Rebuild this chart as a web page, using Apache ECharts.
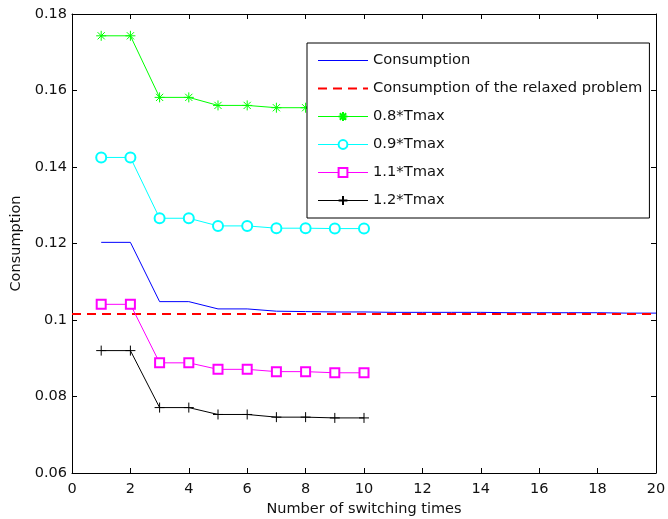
<!DOCTYPE html>
<html>
<head>
<meta charset="utf-8">
<script src="https://cdn.jsdelivr.net/npm/echarts@6/dist/echarts.min.js"></script>
<style>html,body{margin:0;padding:0;background:#fff}#c{width:668px;height:519px}</style>
</head>
<body>
<div id="c"></div>
<script>
var xShort = [1, 2, 3, 4, 5, 6, 7, 8, 9, 10];
var xLong = [1, 2, 3, 4, 5, 6, 7, 8, 9, 10, 11, 12, 13, 14, 15, 16, 17, 18, 19, 20];
var consumption = [0.1203, 0.1203, 0.1048, 0.1048, 0.1029, 0.1029, 0.1023, 0.1022, 0.1021, 0.1021,
                   0.1020, 0.1020, 0.1020, 0.1020, 0.1019, 0.1019, 0.1019, 0.1019, 0.1018, 0.1018];
var relaxedX = [0, 20];
var relaxed = [0.1016, 0.1016];
var t08 = [0.1743, 0.1743, 0.1582, 0.1582, 0.1561, 0.1561, 0.1555, 0.1555, 0.1553, 0.1553];
var t09 = [0.1425, 0.1425, 0.1266, 0.1266, 0.1246, 0.1246, 0.1240, 0.1240, 0.1239, 0.1239];
var t11 = [0.1041, 0.1041, 0.0888, 0.0888, 0.0871, 0.0871, 0.0865, 0.0865, 0.0862, 0.0862];
var t12 = [0.0920, 0.0920, 0.0771, 0.0771, 0.0753, 0.0753, 0.0746, 0.0746, 0.0744, 0.0744];
var names = ['Consumption', 'Consumption of the relaxed problem', '0.8*Tmax', '0.9*Tmax', '1.1*Tmax', '1.2*Tmax'];

function pairs(xs, ys) { return xs.map(function (x, i) { return [x, ys[i]]; }); }

var FONT = 'DejaVu Sans, sans-serif';
var FS = 14.5;
var star = 'path://M0,-5L0,5M-5,0L5,0M-3.6,-3.6L3.6,3.6M-3.6,3.6L3.6,-3.6';
var plus = 'path://M0,-5L0,5M-5,0L5,0';

function mkSeries(name, data, color, symbol, size, dash, width) {
  var noMark = symbol === 'none';
  return {
    name: name, type: 'line', data: data, xAxisIndex: 0, yAxisIndex: 0,
    symbol: noMark ? 'circle' : symbol, symbolSize: noMark ? 0 : size, showSymbol: !noMark,
    lineStyle: { color: color, width: width || 1, type: dash || 'solid' },
    itemStyle: noMark ? { color: 'rgba(0,0,0,0)', borderColor: 'rgba(0,0,0,0)', borderWidth: 0, opacity: 0 }
                      : { color: color, borderColor: color, borderWidth: 1 },
    emphasis: { disabled: true }, animation: false, silent: true
  };
}

var legendWidths = [1, 2, 1, 1, 1, 1];
var legendData = names.map(function (n, i) { return { name: n, lineStyle: { width: legendWidths[i] } }; });

var chart = echarts.init(document.getElementById('c'), null, { renderer: 'canvas' });
var axisLine = { show: true, onZero: false, lineStyle: { color: '#000', width: 1 } };
var tick = { show: true, inside: true, length: 5, lineStyle: { color: '#000' } };
chart.setOption({
  backgroundColor: '#fff',
  animation: false,
  grid: { left: 72, right: 12, top: 14, bottom: 46, containLabel: false, outerBoundsMode: 'none' },
  legend: {
    orient: 'vertical', left: 307, top: 43,
    padding: [10, 7, 10, 10], itemWidth: 50, itemHeight: 11, itemGap: 13,
    borderColor: '#000', borderWidth: 1, backgroundColor: '#fff',
    textStyle: { fontFamily: FONT, fontSize: 14.7, color: '#111' },
    data: legendData, selectedMode: false
  },
  xAxis: [
    { type: 'value', min: 0, max: 20, interval: 2, position: 'bottom',
      name: 'Number of switching times', nameLocation: 'middle', nameGap: 28,
      nameTextStyle: { fontFamily: FONT, fontSize: FS, color: '#111' },
      axisLine: axisLine, axisTick: tick,
      axisLabel: { fontFamily: FONT, fontSize: FS, color: '#111', margin: 9 },
      splitLine: { show: false } },
    { type: 'value', min: 0, max: 20, interval: 2, position: 'top',
      axisLine: axisLine, axisTick: tick,
      axisLabel: { show: false }, splitLine: { show: false } }
  ],
  yAxis: [
    { type: 'value', min: 0.06, max: 0.18, interval: 0.02, position: 'left',
      name: 'Consumption', nameLocation: 'middle', nameGap: 44, nameRotate: 90,
      nameTextStyle: { fontFamily: FONT, fontSize: FS, color: '#111' },
      axisLine: axisLine, axisTick: tick,
      axisLabel: { fontFamily: FONT, fontSize: FS, color: '#111', margin: 5,
        formatter: function (v) { return String(+v.toFixed(2)); } },
      splitLine: { show: false } },
    { type: 'value', min: 0.06, max: 0.18, interval: 0.02, position: 'right',
      axisLine: axisLine, axisTick: tick,
      axisLabel: { show: false }, splitLine: { show: false } }
  ],
  series: [
    mkSeries(names[0], pairs(xLong, consumption), '#0000ff', 'none', 0),
    mkSeries(names[1], pairs(relaxedX, relaxed), '#ff0000', 'none', 0, [9, 6], 2),
    mkSeries(names[2], pairs(xShort, t08), '#00ff00', star, 10),
    mkSeries(names[3], pairs(xShort, t09), '#00ffff', 'emptyCircle', 10),
    mkSeries(names[4], pairs(xShort, t11), '#ff00ff', 'emptyRect', 9),
    mkSeries(names[5], pairs(xShort, t12), '#000000', plus, 10)
  ]
});
</script>
</body>
</html>
